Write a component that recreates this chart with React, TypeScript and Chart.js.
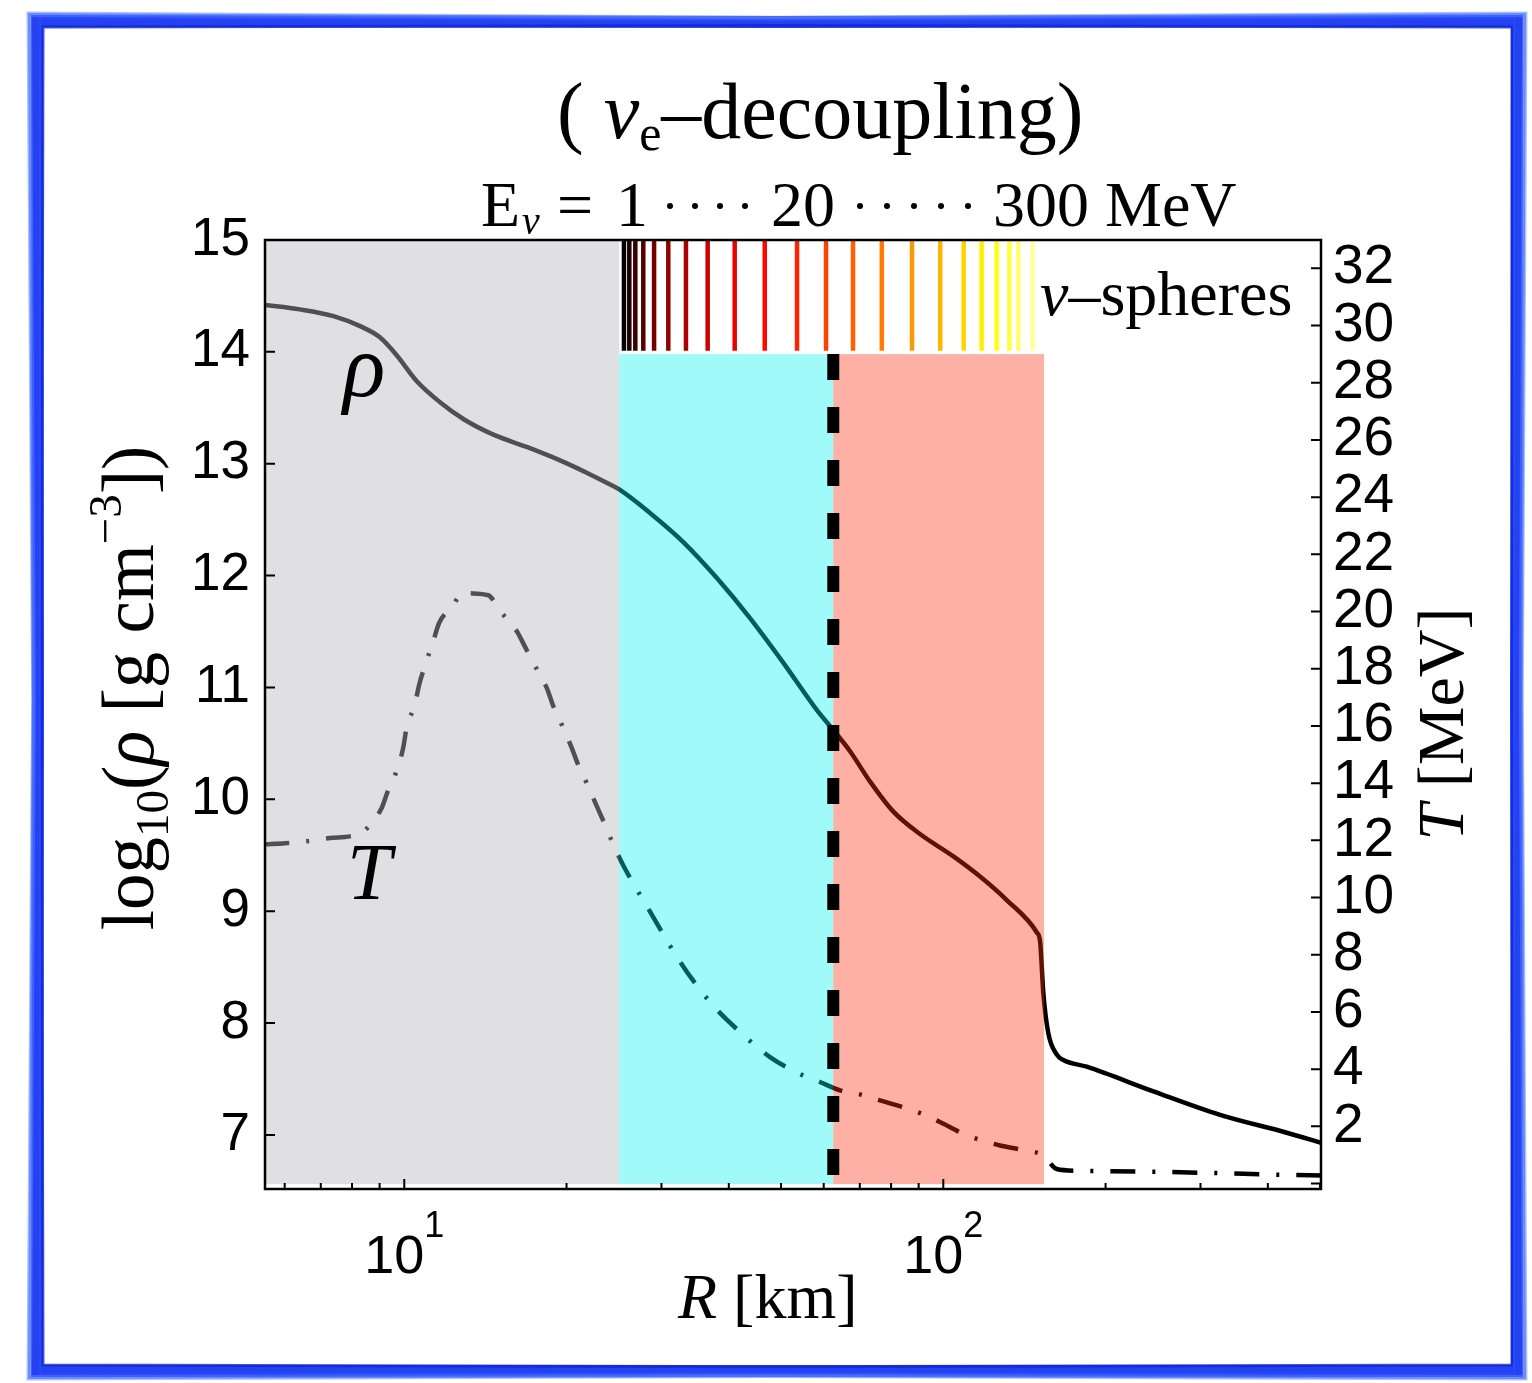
import React, { useEffect, useRef } from 'react';
import { Chart, registerables } from 'chart.js';

Chart.register(...registerables);

const SERIF = '"Liberation Serif", "Times New Roman", serif';
const SANS = '"Liberation Sans", Arial, sans-serif';

// ---- data ----
const rhoR = [5.5, 6.4, 7.39, 8.28, 9.01, 9.68, 10.54, 11.65, 12.87, 14.63, 16.87, 19.45, 21.79, 23.74, 25.05, 28.56, 32.93, 37.98, 43.79, 50.5, 58.23, 62.5, 67.14, 73.11, 80.79, 90.5, 104.4, 117.0, 131.1, 149.1, 151.2, 153.3, 156.6, 162.3, 167.0, 184.5, 245.3, 326.2, 433.6, 502];
const rhoLog = [14.42, 14.38, 14.32, 14.23, 14.13, 13.97, 13.74, 13.55, 13.4, 13.26, 13.15, 13.03, 12.92, 12.83, 12.77, 12.56, 12.3, 11.98, 11.62, 11.22, 10.8, 10.62, 10.43, 10.16, 9.89, 9.69, 9.49, 9.31, 9.1, 8.81, 8.73, 8.27, 7.91, 7.72, 7.67, 7.61, 7.39, 7.18, 7.02, 6.93];

const tempR = [5.5, 6.01, 6.73, 7.28, 7.93, 8.34, 8.64, 9.08, 9.34, 9.75, 9.96, 10.1, 10.47, 10.66, 10.92, 11.32, 11.61, 12.24, 12.87, 13.14, 14.32, 15.05, 16.16, 16.8, 17.48, 18.38, 18.9, 19.59, 20.45, 21.03, 21.8, 22.81, 23.57, 24.36, 25.49, 28.57, 32.47, 36.9, 41.96, 47.7, 54.2, 59.04, 64.3, 70.06, 76.3, 84.3, 91.2, 98.6, 108.9, 117.8, 127.4, 141.8, 153.3, 162.3, 176.8, 236.7, 314.8, 412.5, 502];
const tempMeV = [11.86, 11.9, 11.99, 12.08, 12.14, 12.25, 12.55, 13.13, 13.77, 14.59, 15.26, 15.93, 16.77, 17.45, 18.1, 18.97, 19.61, 20.14, 20.67, 20.64, 20.57, 20.02, 19.32, 18.72, 18.1, 17.33, 16.69, 16.05, 15.23, 14.63, 14.0, 13.15, 12.55, 11.9, 11.12, 9.51, 7.76, 6.35, 5.3, 4.42, 3.83, 3.55, 3.26, 3.12, 2.91, 2.67, 2.44, 2.15, 1.74, 1.51, 1.33, 1.16, 0.98, 0.51, 0.45, 0.42, 0.37, 0.31, 0.28];

// neutrino-sphere radii for E = 1 ... 300 MeV
const sphereR = [25.56, 26.15, 26.83, 27.76, 29.07, 30.89, 33.31, 36.55, 41.02, 46.64, 53.54, 60.6, 68.0, 76.9, 87.5, 98.7, 109.1, 117.8, 125.6, 132.6, 137.8, 146.5];

// shaded regions (km)
const grayRegion = [5.516, 25.05];
const cyanRegion = [25.05, 62.5];
const salmonRegion = [62.5, 153.8];
const decouplingR = 62.5;

// ticks
const xTicks = [6, 7, 8, 9, 10, 20, 30, 40, 50, 60, 70, 80, 90, 100, 200, 300, 400, 500];
const xMajor = [10, 100];
const rhoTicks = [7, 8, 9, 10, 11, 12, 13, 14, 15];
const tTicks = [0, 2, 4, 6, 8, 10, 12, 14, 16, 18, 20, 22, 24, 26, 28, 30, 32];

function hot(t: number): string {
  const c = (v: number) => Math.round(255 * Math.max(0, Math.min(1, v)));
  return `rgb(${c(t / 0.375)},${c((t - 0.375) / 0.375)},${c((t - 0.75) / 0.25)})`;
}

type Run = { text: string; font: string; dy?: number };
function runsWidth(ctx: CanvasRenderingContext2D, runs: Run[]) {
  let w = 0;
  for (const r of runs) { ctx.font = r.font; w += ctx.measureText(r.text).width; }
  return w;
}
function drawRuns(ctx: CanvasRenderingContext2D, runs: Run[], x: number, y: number) {
  let cx = x;
  for (const r of runs) {
    ctx.font = r.font;
    ctx.fillText(r.text, cx, y + (r.dy || 0));
    cx += ctx.measureText(r.text).width;
  }
  return cx;
}

const decor = {
  id: 'decor',
  beforeDraw(chart: any) {
    const ctx = chart.ctx;
    ctx.save();
    ctx.fillStyle = '#ffffff';
    ctx.fillRect(0, 0, chart.width, chart.height);
    ctx.restore();
  },
  afterDatasetDraw(chart: any, args: any) {
    if (args.index !== 1) return;
    const ctx = chart.ctx;
    const { x, y } = chart.scales;
    const a = chart.chartArea;
    ctx.save();
    ctx.beginPath();
    ctx.rect(a.left, a.top, a.right - a.left, a.bottom - a.top);
    ctx.clip();
    const yb = y.getPixelForValue(6.56);
    const yTopGray = y.getPixelForValue(15.05);
    const yTop = y.getPixelForValue(13.98);
    const rect = (r: number[], top: number, col: string) => {
      let x0 = x.getPixelForValue(r[0]);
      const x1 = x.getPixelForValue(r[1]);
      if (x0 <= a.left + 1) x0 = a.left - 2;
      ctx.fillStyle = col;
      ctx.fillRect(x0, top, x1 - x0, yb - top);
    };
    rect(grayRegion, yTopGray, 'rgba(184,184,188,0.435)');
    rect(cyanRegion, yTop, 'rgba(5,242,243,0.38)');
    rect(salmonRegion, yTop, 'rgba(255,47,15,0.38)');
    ctx.restore();
  },
  afterDraw(chart: any) {
    const ctx: CanvasRenderingContext2D = chart.ctx;
    const { x, y, y2 } = chart.scales;
    const a = chart.chartArea;
    ctx.save();
    // box
    ctx.strokeStyle = '#000';
    ctx.lineWidth = 2.5;
    ctx.strokeRect(a.left, a.top, a.right - a.left, a.bottom - a.top);
    // inner ticks
    ctx.lineWidth = 2;
    ctx.beginPath();
    for (const v of xTicks) {
      const px = x.getPixelForValue(v);
      const len = xMajor.includes(v) ? 10 : 6;
      ctx.moveTo(px, a.bottom);
      ctx.lineTo(px, a.bottom - len);
    }
    for (const v of rhoTicks) {
      const py = y.getPixelForValue(v);
      ctx.moveTo(a.left, py);
      ctx.lineTo(a.left + 10, py);
    }
    for (const v of tTicks) {
      const py = y2.getPixelForValue(v);
      ctx.moveTo(a.right, py);
      ctx.lineTo(a.right - 10, py);
    }
    ctx.stroke();

    ctx.fillStyle = '#000';
    ctx.textBaseline = 'alphabetic';
    ctx.textAlign = 'left';
    // x tick labels 10^n
    for (const v of xMajor) {
      const px = x.getPixelForValue(v);
      const runs: Run[] = [
        { text: '10', font: `54px ${SANS}` },
        { text: String(Math.round(Math.log10(v))), font: `36px ${SANS}`, dy: -36 },
      ];
      const w = runsWidth(ctx, runs);
      drawRuns(ctx, runs, px - w / 2, 1273);
    }
    // x title
    drawRuns(ctx, [
      { text: 'R', font: `italic 64px ${SERIF}` },
      { text: ' [km]', font: `64px ${SERIF}` },
    ], 678, 1318);

    // left y title
    {
      const runs: Run[] = [
        { text: 'log', font: `73px ${SERIF}` },
        { text: '10', font: `47px ${SERIF}`, dy: 15 },
        { text: '(', font: `73px ${SERIF}` },
        { text: 'ρ', font: `italic 73px ${SERIF}` },
        { text: ' [g cm', font: `73px ${SERIF}` },
        { text: '−3', font: `47px ${SERIF}`, dy: -32 },
        { text: '])', font: `73px ${SERIF}` },
      ];
      const w = runsWidth(ctx, runs);
      ctx.save();
      ctx.translate(153, 688);
      ctx.rotate(-Math.PI / 2);
      drawRuns(ctx, runs, -w / 2, 0);
      ctx.restore();
    }
    // right y title
    {
      const runs: Run[] = [
        { text: 'T', font: `italic 66px ${SERIF}` },
        { text: ' [MeV]', font: `66px ${SERIF}` },
      ];
      const w = runsWidth(ctx, runs);
      ctx.save();
      ctx.translate(1463, 724);
      ctx.rotate(-Math.PI / 2);
      drawRuns(ctx, runs, -w / 2, 0);
      ctx.restore();
    }
    // title
    drawRuns(ctx, [
      { text: '( ', font: `80px ${SERIF}` },
      { text: 'ν', font: `italic 80px ${SERIF}` },
      { text: 'e', font: `50px ${SERIF}`, dy: 12 },
      { text: '–decoupling)', font: `80px ${SERIF}` },
    ], 557, 138);

    // energy line
    ctx.font = `64px ${SERIF}`;
    ctx.fillText('E', 481, 226);
    ctx.font = `italic 40px ${SERIF}`;
    ctx.fillText('ν', 522, 234);
    ctx.font = `64px ${SERIF}`;
    ctx.fillText('=', 557, 226);
    ctx.fillText('1', 616, 226);
    ctx.fillText('20', 771, 226);
    ctx.fillText('300 MeV', 993, 226);
    for (const cx of [670, 695, 720, 745, 860, 887, 914, 941, 968]) {
      ctx.beginPath();
      ctx.arc(cx, 206, 3, 0, Math.PI * 2);
      ctx.fill();
    }

    // nu-spheres label
    drawRuns(ctx, [
      { text: 'ν', font: `italic 64px ${SERIF}` },
      { text: '–spheres', font: `64px ${SERIF}` },
    ], 1040, 315);

    // curve labels
    ctx.font = `italic 88px ${SERIF}`;
    ctx.fillText('ρ', 343, 396);
    ctx.font = `italic 80px ${SERIF}`;
    ctx.fillText('T', 347, 899);

    // blue hand-drawn frame
    const x0 = 37, y0 = 21, x1 = 1517, y1 = 1371;
    const strokes = [
      { c: 'rgba(25,55,240,0.95)', w: 12, d: [0, 0, 0, 0] },
      { c: 'rgba(70,110,255,0.75)', w: 4, d: [-7, -6, 7, 6] },
      { c: 'rgba(15,40,215,0.8)', w: 3, d: [6, 6, -5, -6] },
      { c: 'rgba(90,130,255,0.5)', w: 3, d: [-9, -8, 9, 8] },
      { c: 'rgba(40,80,250,0.7)', w: 2, d: [3, -3, -3, 3] },
    ];
    for (const s of strokes) {
      ctx.strokeStyle = s.c;
      ctx.lineWidth = s.w;
      ctx.beginPath();
      ctx.moveTo(x0 + s.d[0], y0 + s.d[1]);
      ctx.lineTo((x0 + x1) / 2, y0 + s.d[1] * 0.6 + 1);
      ctx.lineTo(x1 + s.d[2], y0 + s.d[1]);
      ctx.lineTo(x1 + s.d[2] * 0.7 - 1, (y0 + y1) / 2);
      ctx.lineTo(x1 + s.d[2], y1 + s.d[3]);
      ctx.lineTo((x0 + x1) / 2, y1 + s.d[3] * 0.7);
      ctx.lineTo(x0 + s.d[0], y1 + s.d[3]);
      ctx.lineTo(x0 + s.d[0] * 0.6 + 1, (y0 + y1) / 2);
      ctx.closePath();
      ctx.stroke();
    }
    ctx.restore();
  },
};

export default function App() {
  const ref = useRef<HTMLCanvasElement | null>(null);
  useEffect(() => {
    if (!ref.current) return;
    const datasets: any[] = [];
    datasets.push({
      label: 'decoupling',
      data: [{ x: decouplingR, y: 13.98 }, { x: decouplingR, y: 6.56 }],
      yAxisID: 'y',
      borderColor: '#000',
      borderWidth: 12,
      borderDash: [26, 27],
      borderCapStyle: 'butt',
      pointRadius: 0,
    });
    datasets.push({
      label: 'rho',
      data: rhoR.map((r, i) => ({ x: r, y: rhoLog[i] })),
      yAxisID: 'y',
      borderColor: '#000',
      borderWidth: 4.5,
      pointRadius: 0,
      cubicInterpolationMode: 'monotone',
    });
    datasets.push({
      label: 'T',
      data: tempR.map((r, i) => ({ x: r, y: tempMeV[i] })),
      yAxisID: 'y2',
      borderColor: '#000',
      borderWidth: 4.5,
      borderDash: [25, 17, 3, 17],
      pointRadius: 0,
      cubicInterpolationMode: 'monotone',
    });
    sphereR.forEach((r, i) => {
      datasets.push({
        label: 'sphere' + i,
        data: [{ x: r, y: 14.01 }, { x: r, y: 15 }],
        yAxisID: 'y',
        borderColor: hot((i / (sphereR.length - 1)) * 0.9),
        borderWidth: 4.5,
        borderCapStyle: 'butt',
        pointRadius: 0,
      });
    });

    const chart = new Chart(ref.current, {
      type: 'line',
      data: { datasets },
      options: {
        animation: false,
        responsive: false,
        devicePixelRatio: 1,
        events: [],
        layout: { padding: { top: 240, left: 0, right: 0, bottom: 0 } },
        plugins: { legend: { display: false }, tooltip: { enabled: false }, title: { display: false } },
        scales: {
          x: {
            type: 'logarithmic',
            position: 'bottom',
            min: 5.516,
            max: 502,
            grid: { display: false, drawTicks: false },
            border: { display: false },
            ticks: { callback: () => '', autoSkip: false, maxRotation: 0 },
            afterBuildTicks: (s: any) => { s.ticks = xTicks.map((v) => ({ value: v })); },
            afterFit: (s: any) => { s.height = 194; },
          },
          y: {
            type: 'linear',
            position: 'left',
            min: 6.517,
            max: 15,
            grid: { display: false, drawTicks: false },
            border: { display: false },
            ticks: { color: '#000', font: { family: SANS, size: 53 }, padding: 15, autoSkip: false },
            afterBuildTicks: (s: any) => { s.ticks = rhoTicks.map((v) => ({ value: v })); },
            afterFit: (s: any) => { s.width = 265; },
          },
          y2: {
            type: 'linear',
            position: 'right',
            min: -0.19,
            max: 32.99,
            grid: { display: false, drawTicks: false },
            border: { display: false },
            ticks: {
              color: '#000',
              font: { family: SANS, size: 55 },
              padding: 12,
              autoSkip: false,
              callback: (v: any) => (v === 0 ? '' : String(v)),
            },
            afterBuildTicks: (s: any) => { s.ticks = tTicks.map((v) => ({ value: v })); },
            afterFit: (s: any) => { s.width = 211; },
          },
        },
      },
      plugins: [decor],
    } as any);
    return () => chart.destroy();
  }, []);
  return (
    <div style={{ position: 'absolute', left: 0, top: 0, width: 1532, height: 1383 }}>
      <canvas ref={ref} width={1532} height={1383} style={{ display: 'block' }} />
    </div>
  );
}
